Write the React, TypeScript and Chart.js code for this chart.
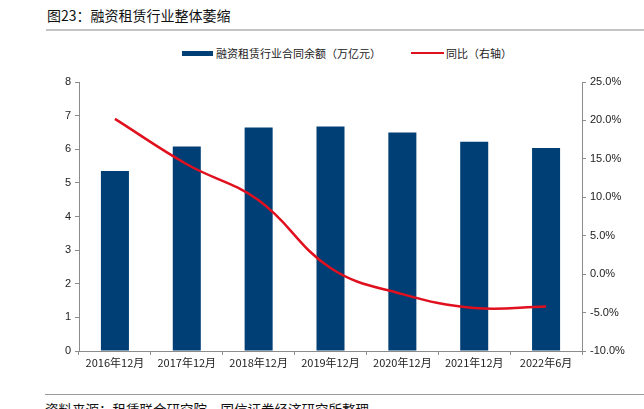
import React, { useEffect, useRef } from "react";
import { Chart, registerables } from "chart.js";

Chart.register(...registerables);

const categories = ["2016年12月", "2017年12月", "2018年12月", "2019年12月", "2020年12月", "2021年12月", "2022年6月"];
const balanceValues = [5.35, 6.08, 6.65, 6.68, 6.50, 6.22, 6.04];
const yoyValues = [20.2, 14.3, 9.6, 0.8, -2.6, -4.4, -4.2];
const leftTicks = [0, 1, 2, 3, 4, 5, 6, 7, 8];
const rightTicks = [-10, -5, 0, 5, 10, 15, 20, 25];

const barName = "融资租赁行业合同余额（万亿元）";
const lineName = "同比（右轴）";
const titleText = "图23：融资租赁行业整体萎缩";
const sourceText = "资料来源：租赁联合研究院、国信证券经济研究所整理";

const BAR_COLOR = "#003f75";
const LINE_COLOR = "#e0101e";
const AXIS_COLOR = "#8c8c8c";
const CJK = '"Noto Sans CJK SC", "Noto Sans", sans-serif';
const LATIN = '"Liberation Sans", Arial, sans-serif';

export default function App() {
  const canvasRef = useRef<HTMLCanvasElement | null>(null);

  useEffect(() => {
    const canvas = canvasRef.current;
    if (!canvas) return;
    const chart = new Chart(canvas, {
      type: "bar",
      data: {
        labels: categories,
        datasets: [
          {
            type: "line",
            label: lineName,
            data: yoyValues,
            yAxisID: "yRight",
            borderColor: LINE_COLOR,
            backgroundColor: LINE_COLOR,
            borderWidth: 2.5,
            pointRadius: 0,
            tension: 0.4,
            order: 0,
          },
          {
            type: "bar",
            label: barName,
            data: balanceValues,
            yAxisID: "yLeft",
            backgroundColor: BAR_COLOR,
            barPercentage: 0.39,
            categoryPercentage: 1,
            order: 1,
          },
        ],
      },
      options: {
        responsive: false,
        animation: false,
        maintainAspectRatio: false,
        layout: { padding: { top: 22, left: 0, right: 0, bottom: 0 } },
        plugins: {
          legend: { display: false },
          title: { display: false },
          tooltip: { enabled: false },
        },
        scales: {
          x: {
            offset: true,
            grid: {
              display: true,
              offset: true,
              drawOnChartArea: false,
              drawTicks: true,
              tickLength: 4,
              color: AXIS_COLOR,
            },
            border: { display: true, color: AXIS_COLOR, width: 1 },
            ticks: {
              color: "#222",
              font: { family: CJK, size: 11 },
              padding: 1,
              maxRotation: 0,
              autoSkip: false,
            },
            afterFit: (scale: any) => {
              scale.height = 29;
            },
          },
          yLeft: {
            type: "linear",
            position: "left",
            min: 0,
            max: 8,
            afterBuildTicks: (scale: any) => {
              scale.ticks = leftTicks.map((v) => ({ value: v }));
            },
            grid: {
              display: true,
              drawOnChartArea: false,
              drawTicks: true,
              tickLength: 4,
              color: AXIS_COLOR,
            },
            border: { display: true, color: AXIS_COLOR, width: 1 },
            ticks: {
              color: "#222",
              font: { family: LATIN, size: 11 },
              padding: 4,
              callback: (v: any) => String(v),
            },
            afterFit: (scale: any) => {
              scale.width = 79;
            },
          },
          yRight: {
            type: "linear",
            position: "right",
            min: -10,
            max: 25,
            afterBuildTicks: (scale: any) => {
              scale.ticks = rightTicks.map((v) => ({ value: v }));
            },
            grid: {
              display: true,
              drawOnChartArea: false,
              drawTicks: true,
              tickLength: 4,
              color: AXIS_COLOR,
            },
            border: { display: true, color: AXIS_COLOR, width: 1 },
            ticks: {
              color: "#222",
              font: { family: LATIN, size: 11 },
              padding: 4,
              callback: (v: any) => Number(v).toFixed(1) + "%",
            },
            afterFit: (scale: any) => {
              scale.width = 62;
            },
          },
        },
      },
    });
    return () => chart.destroy();
  }, []);

  return (
    <div
      style={{
        position: "absolute",
        left: 0,
        top: 0,
        width: 644,
        height: 409,
        overflow: "hidden",
        background: "#fff",
        fontFamily: CJK,
      }}
    >
      <div
        style={{
          position: "absolute",
          left: 47,
          top: 5,
          fontSize: 14,
          lineHeight: "20px",
          color: "#111",
          whiteSpace: "nowrap",
        }}
      >
        {titleText}
      </div>
      <div style={{ position: "absolute", left: 46, top: 29, width: 598, height: 2, background: "#c4c4c4" }} />

      {/* legend */}
      <div style={{ position: "absolute", left: 182, top: 51, width: 31, height: 5, background: BAR_COLOR }} />
      <div
        style={{
          position: "absolute",
          left: 216,
          top: 45,
          fontSize: 11,
          lineHeight: "16px",
          color: "#222",
          whiteSpace: "nowrap",
        }}
      >
        {barName}
      </div>
      <div style={{ position: "absolute", left: 411, top: 52, width: 33, height: 2, background: LINE_COLOR }} />
      <div
        style={{
          position: "absolute",
          left: 446,
          top: 45,
          fontSize: 11,
          lineHeight: "16px",
          color: "#222",
          whiteSpace: "nowrap",
        }}
      >
        {lineName}
      </div>

      <canvas
        ref={canvasRef}
        width={644}
        height={320}
        style={{ position: "absolute", left: 0, top: 60, width: 644, height: 320 }}
      />

      <div style={{ position: "absolute", left: 45, top: 394, width: 599, height: 1, background: "#9a9a9a" }} />
      <div
        style={{
          position: "absolute",
          left: 45,
          top: 399,
          fontSize: 13.5,
          lineHeight: "20px",
          color: "#111",
          whiteSpace: "nowrap",
        }}
      >
        {sourceText}
      </div>
    </div>
  );
}
